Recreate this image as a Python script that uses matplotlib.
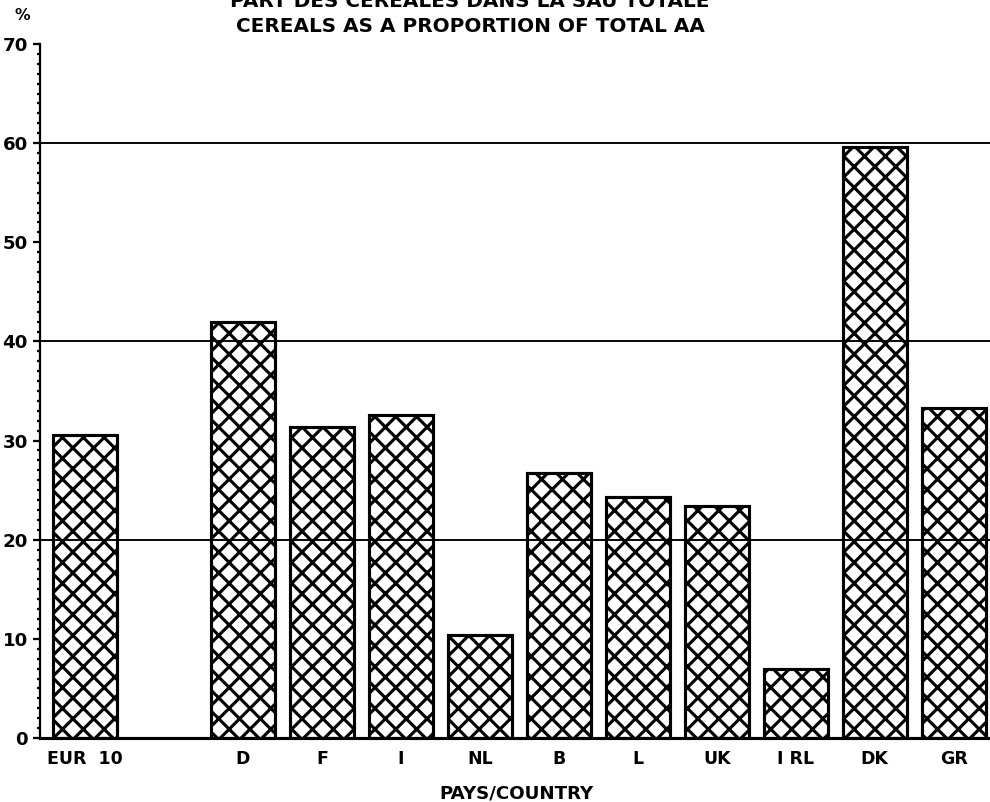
import numpy as np
import matplotlib
matplotlib.use("Agg")
import matplotlib.pyplot as plt
from matplotlib.ticker import MultipleLocator

# data
countries = ["EUR  10", "D", "F", "I", "NL", "B", "L", "UK", "I RL", "DK", "GR"]
positions = [0, 2, 3, 4, 5, 6, 7, 8, 9, 10, 11]
share = [30.6, 42.0, 31.4, 32.6, 10.4, 26.7, 24.3, 23.4, 7.0, 59.6, 33.3]
grid_levels = [20, 40, 60]

plt.rcParams['font.family'] = ['DejaVu Sans']
plt.rcParams['font.weight'] = 'bold'
plt.rcParams['hatch.linewidth'] = 1.8
plt.rcParams['hatch.color'] = 'black'

DPI = 125
fig = plt.figure(figsize=(990 / DPI, 802 / DPI), dpi=DPI)
ax = fig.add_axes([40 / 990, 64 / 802, 950 / 990, 694 / 802])

ax.bar(positions, share, width=0.81, facecolor='white', edgecolor='black',
       linewidth=1.8, hatch='xx', zorder=2)

for g in grid_levels:
    ax.axhline(g, color='black', linewidth=1.1, zorder=3)

ax.set_xlim(-0.57, 11.46)
ax.set_ylim(0, 70)

ax.spines['top'].set_visible(False)
ax.spines['right'].set_visible(False)
ax.spines['left'].set_linewidth(1.3)
ax.spines['bottom'].set_linewidth(1.8)

ax.yaxis.set_major_locator(MultipleLocator(10))
ax.yaxis.set_minor_locator(MultipleLocator(1))
ax.tick_params(axis='y', which='major', length=4, width=1.3, pad=3, labelsize=10.5)
ax.tick_params(axis='y', which='minor', length=2, width=1.3)
ax.set_xticks(positions)
ax.set_xticklabels(countries)
ax.tick_params(axis='x', length=0, pad=7, labelsize=10)

for lab in ax.get_xticklabels() + ax.get_yticklabels():
    lab.set_fontweight('bold')

fig.text(22 / 990, 1 - 16 / 802, "%", ha='center', va='center', fontsize=9, fontweight='bold')
fig.text(470 / 990, 1 - 7 / 802, "PART DES CEREALES DANS LA SAU TOTALE",
         ha='center', va='baseline', fontsize=11.5, fontweight='bold')
fig.text(470 / 990, 1 - 32 / 802, "CEREALS AS A PROPORTION OF TOTAL AA",
         ha='center', va='baseline', fontsize=11.5, fontweight='bold')
fig.text(516 / 990, 1 - 793 / 802, "PAYS/COUNTRY", ha='center', va='center',
         fontsize=10.5, fontweight='bold')

fig.savefig("out.png", dpi=DPI, facecolor='white')
